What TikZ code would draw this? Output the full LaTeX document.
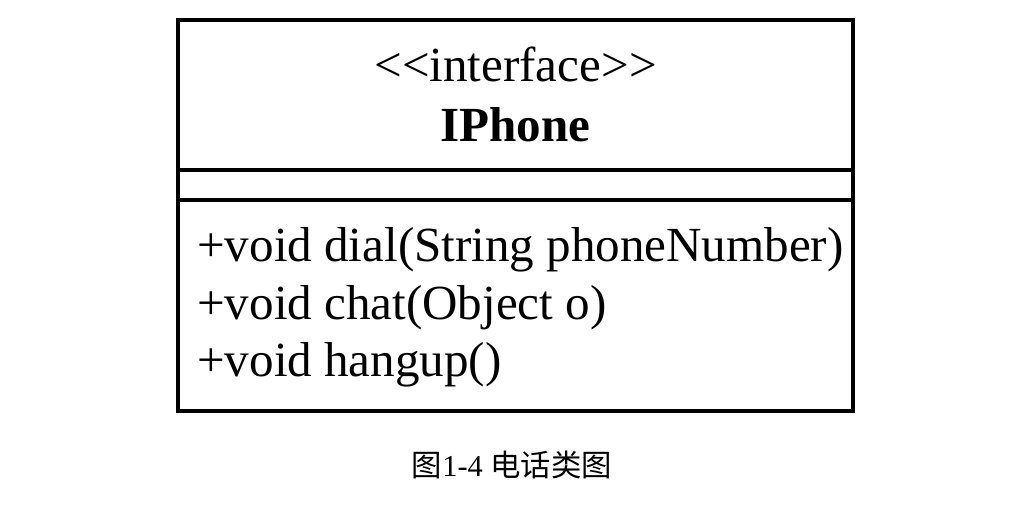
\documentclass[tikz,border=0pt]{standalone}
\usepackage{fontspec}
\setmainfont{Liberation Serif}
\newfontfamily\cjk{Noto Sans CJK SC}
\begin{document}
\begin{tikzpicture}[x=0.75pt,y=-0.75pt]
\def\boxlinewidth{3pt}
\def\classwidth{675}
\def\textfontsize{\fontsize{36.8}{44}\selectfont}
\def\captionfontsize{\fontsize{22.8}{27}\selectfont}
\tikzset{classtext/.style={inner sep=0pt, anchor=base west}}
\useasboundingbox (0,0) rectangle (1015,523);

\begin{scope}[shift={(178, 20)}] % CLASS BOX
\draw[line width=\boxlinewidth] (0,0) rectangle +(\classwidth, 391);
\draw[line width=\boxlinewidth] (0, 150) -- +(\classwidth, 0); % NAME / ATTRIBUTES
\draw[line width=\boxlinewidth] (0, 180) -- +(\classwidth, 0); % ATTRIBUTES / METHODS

\node [inner sep=0pt, anchor=base] (stereotype) at (337.5, 62) {\textfontsize <{}<interface>{}>};
\node [inner sep=0pt, anchor=base] (classname) at (337.5, 122) {\textfontsize\bfseries IPhone};

\node [classtext] (dial) at (19, 242) {\textfontsize +void dial(String phoneNumber)};
\node [classtext] (chat) at (19, 300) {\textfontsize +void chat(Object o)};
\node [classtext] (hangup) at (19, 357) {\textfontsize +void hangup()};
\end{scope}

\node [inner sep=0pt, anchor=base] (caption) at (512, 477) {\captionfontsize{\cjk 图}1-4 {\cjk 电话类图}};
\end{tikzpicture}
\end{document}
